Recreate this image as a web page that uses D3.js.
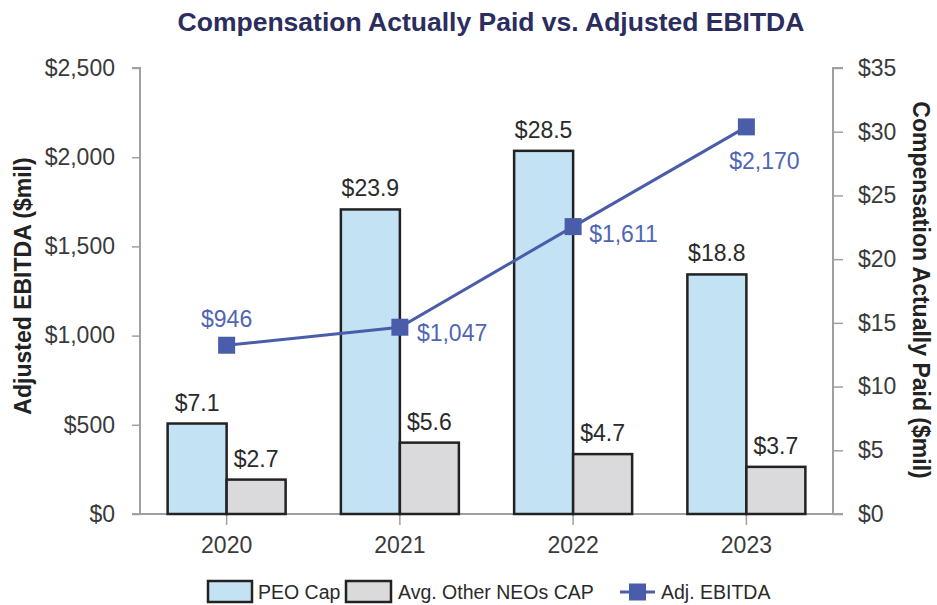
<!DOCTYPE html>
<html><head><meta charset="utf-8">
<script src="https://cdn.jsdelivr.net/npm/d3@7"></script>
<style>body{margin:0;background:#fff}svg{display:block}text{font-family:"Liberation Sans",Arial,sans-serif}</style>
</head><body><svg id="c" width="937" height="605"></svg>
<script>
const years = ["2020","2021","2022","2023"];
const peoCap = [7.1, 23.9, 28.5, 18.8];
const neoCap = [2.7, 5.6, 4.7, 3.7];
const ebitda = [946, 1047, 1611, 2170];
const leftTicks = [0, 500, 1000, 1500, 2000, 2500];
const rightTicks = [0, 5, 10, 15, 20, 25, 30, 35];
const legendLabels = ["PEO Cap", "Avg. Other NEOs CAP", "Adj. EBITDA"];

const svg = d3.select("#c");
const L = 140, R = 833, T = 68, B = 514;
const x = d3.scaleBand().domain(years).range([L, R]);
const yL = d3.scaleLinear().domain([0, 2500]).range([B, T]);
const yR = d3.scaleLinear().domain([0, 35]).range([B, T]);
const bw = 59;
const axisCol = "#a0a0a0", tickTxt = "#3a3a3a";
const blue = "#4a5dab", lblBlue = "#5066b4";
const FS = 23;

svg.append("text").attr("x", 491).attr("y", 31).attr("text-anchor", "middle")
  .style("font-family", "'Liberation Sans Narrow','Arial Narrow',sans-serif")
  .attr("font-weight", "bold").attr("font-size", 26.5).attr("fill", "#2b2d5e")
  .text("Compensation Actually Paid vs. Adjusted EBITDA");

// left axis
const gl = svg.append("g").attr("transform", `translate(${L},0)`)
  .call(d3.axisLeft(yL).tickValues(leftTicks).tickSize(8).tickPadding(17)
    .tickFormat(d => "$" + d3.format(",")(d)));
// right axis
const gr = svg.append("g").attr("transform", `translate(${R},0)`)
  .call(d3.axisRight(yR).tickValues(rightTicks).tickSize(10).tickPadding(15)
    .tickFormat(d => "$" + d));
// x axis
const gx = svg.append("g").attr("transform", `translate(0,${B})`)
  .call(d3.axisBottom(x).tickSize(11).tickPadding(8).tickSizeOuter(0));
[gl, gr, gx].forEach(g => {
  g.select(".domain").attr("stroke", axisCol).attr("stroke-width", 2);
  g.selectAll(".tick line").attr("stroke", axisCol).attr("stroke-width", 1.5);
  g.selectAll(".tick text").attr("fill", tickTxt).attr("font-size", FS)
    .style("font-family", "'Liberation Sans',Arial,sans-serif");
});
gl.select(".domain").attr("d", `M-8,${T}H0V${B}H-8`);
gr.select(".domain").attr("d", `M10,${T}H0V${B}H10`);
gx.select(".domain").attr("d", `M${L},0H${R}`);
gx.selectAll(".tick text").attr("dy", "0.85em");

// axis titles
svg.append("text").attr("transform", `translate(31,286) rotate(-90)`)
  .attr("text-anchor", "middle").attr("font-weight", "bold").attr("font-size", FS)
  .attr("fill", "#222").text("Adjusted EBITDA ($mil)");
svg.append("text").attr("transform", `translate(913,290) rotate(90)`)
  .attr("text-anchor", "middle").attr("font-weight", "bold").attr("font-size", FS)
  .attr("fill", "#222").text("Compensation Actually Paid ($mil)");

const cx = d => x(d) + x.bandwidth() / 2;
// bars
const series = [
  {vals: peoCap, fill: "#c3e2f4", off: -bw},
  {vals: neoCap, fill: "#dadadc", off: 0}
];
series.forEach(s => {
  svg.append("g").selectAll("rect").data(years).join("rect")
    .attr("x", d => cx(d) + s.off).attr("width", bw)
    .attr("y", (d, i) => yR(s.vals[i])).attr("height", (d, i) => B - yR(s.vals[i]))
    .attr("fill", s.fill).attr("stroke", "#222").attr("stroke-width", 2.5);
  svg.append("g").selectAll("text").data(years).join("text")
    .attr("x", d => cx(d) + s.off + bw / 2).attr("y", (d, i) => yR(s.vals[i]) - 13)
    .attr("text-anchor", "middle").attr("font-size", FS).attr("fill", "#2a2a2a")
    .text((d, i) => "$" + s.vals[i].toFixed(1));
});

// line
const line = d3.line().x((d, i) => cx(years[i])).y(d => yL(d));
svg.append("path").datum(ebitda).attr("d", line).attr("fill", "none")
  .attr("stroke", blue).attr("stroke-width", 3);
svg.append("g").selectAll("rect").data(ebitda).join("rect")
  .attr("x", (d, i) => cx(years[i]) - 8.5).attr("y", d => yL(d) - 8.5)
  .attr("width", 17).attr("height", 17).attr("fill", blue);
const place = [["middle", 0, -18], ["start", 17, 14], ["start", 16, 15], ["middle", 18, 42]];
svg.append("g").selectAll("text").data(ebitda).join("text")
  .attr("x", (d, i) => cx(years[i]) + place[i][1]).attr("y", (d, i) => yL(d) + place[i][2])
  .attr("text-anchor", (d, i) => place[i][0]).attr("font-size", FS).attr("fill", lblBlue)
  .text(d => "$" + d3.format(",")(d));

// legend
const lg = svg.append("g");
const ly = 592;
lg.append("rect").attr("x", 208).attr("y", ly - 11).attr("width", 44).attr("height", 21)
  .attr("fill", "#c3e2f4").attr("stroke", "#222").attr("stroke-width", 2.5);
lg.append("text").attr("x", 258).attr("y", ly + 7).attr("font-size", 19.5).attr("fill", "#2a2a2a").text(legendLabels[0]);
lg.append("rect").attr("x", 346).attr("y", ly - 11).attr("width", 45).attr("height", 21)
  .attr("fill", "#dadadc").attr("stroke", "#222").attr("stroke-width", 2.5);
lg.append("text").attr("x", 398).attr("y", ly + 7).attr("font-size", 19.5).attr("fill", "#2a2a2a").text(legendLabels[1]);
lg.append("line").attr("x1", 620).attr("x2", 655).attr("y1", ly).attr("y2", ly)
  .attr("stroke", blue).attr("stroke-width", 3);
lg.append("rect").attr("x", 629).attr("y", ly - 8.5).attr("width", 17).attr("height", 17).attr("fill", blue);
lg.append("text").attr("x", 661).attr("y", ly + 7).attr("font-size", 19.5).attr("fill", "#2a2a2a").text(legendLabels[2]);
</script></body></html>
